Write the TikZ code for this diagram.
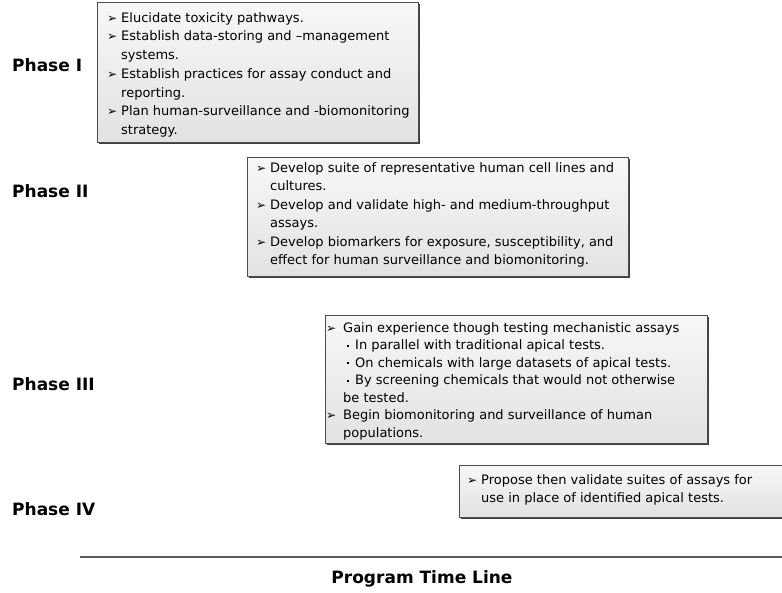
\documentclass[tikz,border=0pt]{standalone}
\usepackage{fontspec}
\setmainfont{DejaVu Sans}
\usetikzlibrary{shadows}
\definecolor{boxtop}{HTML}{F7F7F7}
\definecolor{boxbot}{HTML}{E2E2E2}
\tikzset{
  panel/.style={draw=black!70, line width=0.7pt, top color=boxtop, bottom color=boxbot,
    anchor=north west, inner sep=0pt,
    drop shadow={shadow xshift=1.5pt, shadow yshift=-1.5pt, fill=black!75, opacity=1}},
  phase/.style={font=\bfseries\fontsize{17}{20}\selectfont, anchor=west, inner sep=0pt},
  body/.style={anchor=north west, inner sep=0pt, align=left},
}
\newcommand{\arrw}[1]{\makebox[#1][l]{\raisebox{0pt}{\fontsize{12}{12}\selectfont ➢}}}
\newcommand{\arr}{\arrw{14pt}}
\newcommand{\ind}{\hspace*{14pt}}
\newcommand{\dotb}{\hspace*{21pt}\makebox[8pt][l]{\raisebox{3pt}{\rule{2.2pt}{2.2pt}}}}
\begin{document}
\begin{tikzpicture}[x=1pt,y=-1pt]
\useasboundingbox (0,0) rectangle (782,592);

% Phase labels
\node[phase] (p1) at (12,65) {Phase I};
\node[phase] (p2) at (12,191) {Phase II};
\node[phase] (p3) at (12,384) {Phase III};
\node[phase] (p4) at (12,509) {Phase IV};

% Box 1
\node[panel, minimum width=321pt, minimum height=140pt] (b1) at (97,2) {};
\node[body, font=\fontsize{13}{18.7}\selectfont] (t1) at (107,12.2) {%
\arr Elucidate toxicity pathways.\\
\arr Establish data-storing and –management\\
\ind systems.\\
\arr Establish practices for assay conduct and\\
\ind reporting.\\
\arr Plan human-surveillance and -biomonitoring\\
\ind strategy.};

% Box 2
\node[panel, minimum width=381pt, minimum height=119pt] (b2) at (247,157) {};
\node[body, font=\fontsize{13}{18.5}\selectfont] (t2) at (256,162.2) {%
\arr Develop suite of representative human cell lines and\\
\ind cultures.\\
\arr Develop and validate high- and medium-throughput\\
\ind assays.\\
\arr Develop biomarkers for exposure, susceptibility, and\\
\ind effect for human surveillance and biomonitoring.};

% Box 3
\node[panel, minimum width=382pt, minimum height=128pt] (b3) at (325,315) {};
\node[body, font=\fontsize{13}{17.5}\selectfont] (t3) at (326,322.2) {%
\arrw{17pt}Gain experience though testing mechanistic assays\\
\dotb In parallel with traditional apical tests.\\
\dotb On chemicals with large datasets of apical tests.\\
\dotb By screening chemicals that would not otherwise\\
\hspace*{17pt}be tested.\\
\arrw{17pt}Begin biomonitoring and surveillance of human\\
\hspace*{17pt}populations.};

% Box 4
\node[panel, minimum width=340pt, minimum height=52pt] (b4) at (459,465) {};
\node[body, font=\fontsize{13}{18.5}\selectfont] (t4) at (467,474.2) {%
\arr Propose then validate suites of assays for\\
\ind use in place of identified apical tests.};

% Time line
\coordinate (l1) at (80,557);
\coordinate (l2) at (782,557);
\draw[black!65, line width=1.4pt] (l1) -- (l2);
\node[phase, anchor=center] (title) at (422,579) {Program Time Line};
\end{tikzpicture}
\end{document}
